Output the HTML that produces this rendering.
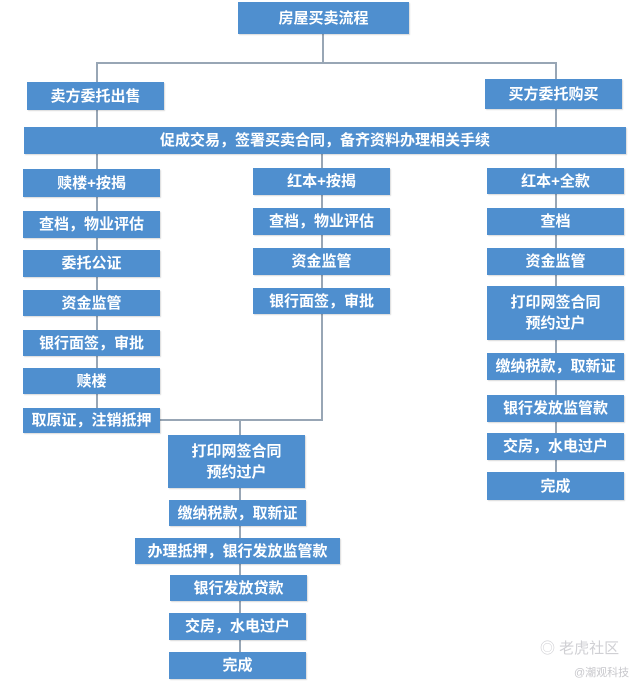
<!DOCTYPE html>
<html><head><meta charset="utf-8"><style>
body{margin:0;width:640px;height:685px;background:#fff;position:relative;overflow:hidden;font-family:"Liberation Sans","Noto Sans CJK SC",sans-serif;}
.b{position:absolute;background:#4f8fcf;color:#fff;font-size:15px;font-weight:600;display:flex;align-items:center;justify-content:center;text-align:center;line-height:21px;box-shadow:1px 1px 1px rgba(0,0,0,0.15);white-space:nowrap;}
.l{position:absolute;background:#98a6b5;}
.h{height:2px}.v{width:2px}
</style></head><body>
<div class="l v" style="left:322px;top:33px;height:31px"></div>
<div class="l h" style="left:96px;top:62px;width:461px"></div>
<div class="l v" style="left:96px;top:62px;height:20px"></div>
<div class="l v" style="left:555px;top:62px;height:18px"></div>
<div class="l v" style="left:96px;top:110px;height:17px"></div>
<div class="l v" style="left:555px;top:108px;height:19px"></div>
<div class="l v" style="left:96px;top:154px;height:254px"></div>
<div class="l v" style="left:321px;top:154px;height:267px"></div>
<div class="l v" style="left:555px;top:154px;height:318px"></div>
<div class="l h" style="left:160px;top:419px;width:163px"></div>
<div class="l v" style="left:239px;top:419px;height:240px"></div>

<div class="b" style="left:238px;top:2px;width:171px;height:32px">房屋买卖流程</div>
<div class="b" style="left:27px;top:82px;width:137px;height:28px">卖方委托出售</div>
<div class="b" style="left:485px;top:79px;width:137px;height:30px">买方委托购买</div>
<div class="b" style="left:24px;top:127px;width:602px;height:27px">促成交易，签署买卖合同，备齐资料办理相关手续</div>

<div class="b" style="left:23px;top:169px;width:137px;height:28px">赎楼+按揭</div>
<div class="b" style="left:23px;top:211px;width:137px;height:27px">查档，物业评估</div>
<div class="b" style="left:23px;top:250px;width:137px;height:27px">委托公证</div>
<div class="b" style="left:23px;top:290px;width:137px;height:26px">资金监管</div>
<div class="b" style="left:23px;top:330px;width:137px;height:26px">银行面签，审批</div>
<div class="b" style="left:23px;top:368px;width:137px;height:26px">赎楼</div>
<div class="b" style="left:23px;top:408px;width:137px;height:25px">取原证，注销抵押</div>

<div class="b" style="left:253px;top:168px;width:137px;height:27px">红本+按揭</div>
<div class="b" style="left:253px;top:208px;width:137px;height:27px">查档，物业评估</div>
<div class="b" style="left:253px;top:248px;width:137px;height:27px">资金监管</div>
<div class="b" style="left:253px;top:288px;width:137px;height:26px">银行面签，审批</div>

<div class="b" style="left:487px;top:168px;width:137px;height:26px">红本+全款</div>
<div class="b" style="left:487px;top:208px;width:137px;height:27px">查档</div>
<div class="b" style="left:487px;top:248px;width:137px;height:27px">资金监管</div>
<div class="b" style="left:487px;top:286px;width:137px;height:54px">打印网签合同<br>预约过户</div>
<div class="b" style="left:487px;top:353px;width:137px;height:27px">缴纳税款，取新证</div>
<div class="b" style="left:487px;top:395px;width:137px;height:27px">银行发放监管款</div>
<div class="b" style="left:487px;top:433px;width:137px;height:27px">交房，水电过户</div>
<div class="b" style="left:487px;top:472px;width:137px;height:28px">完成</div>

<div class="b" style="left:168px;top:435px;width:137px;height:53px">打印网签合同<br>预约过户</div>
<div class="b" style="left:169px;top:500px;width:137px;height:26px">缴纳税款，取新证</div>
<div class="b" style="left:135px;top:538px;width:205px;height:26px">办理抵押，银行发放监管款</div>
<div class="b" style="left:170px;top:575px;width:137px;height:26px">银行发放贷款</div>
<div class="b" style="left:169px;top:613px;width:137px;height:27px">交房，水电过户</div>
<div class="b" style="left:169px;top:652px;width:137px;height:27px">完成</div>

<div style="position:absolute;left:540px;top:637px;color:#d0d0d4;font-size:15px">◎ 老虎社区</div>
<div style="position:absolute;left:574px;top:664px;color:#c8c8cc;font-size:11px">@潮观科技</div>
</body></html>
